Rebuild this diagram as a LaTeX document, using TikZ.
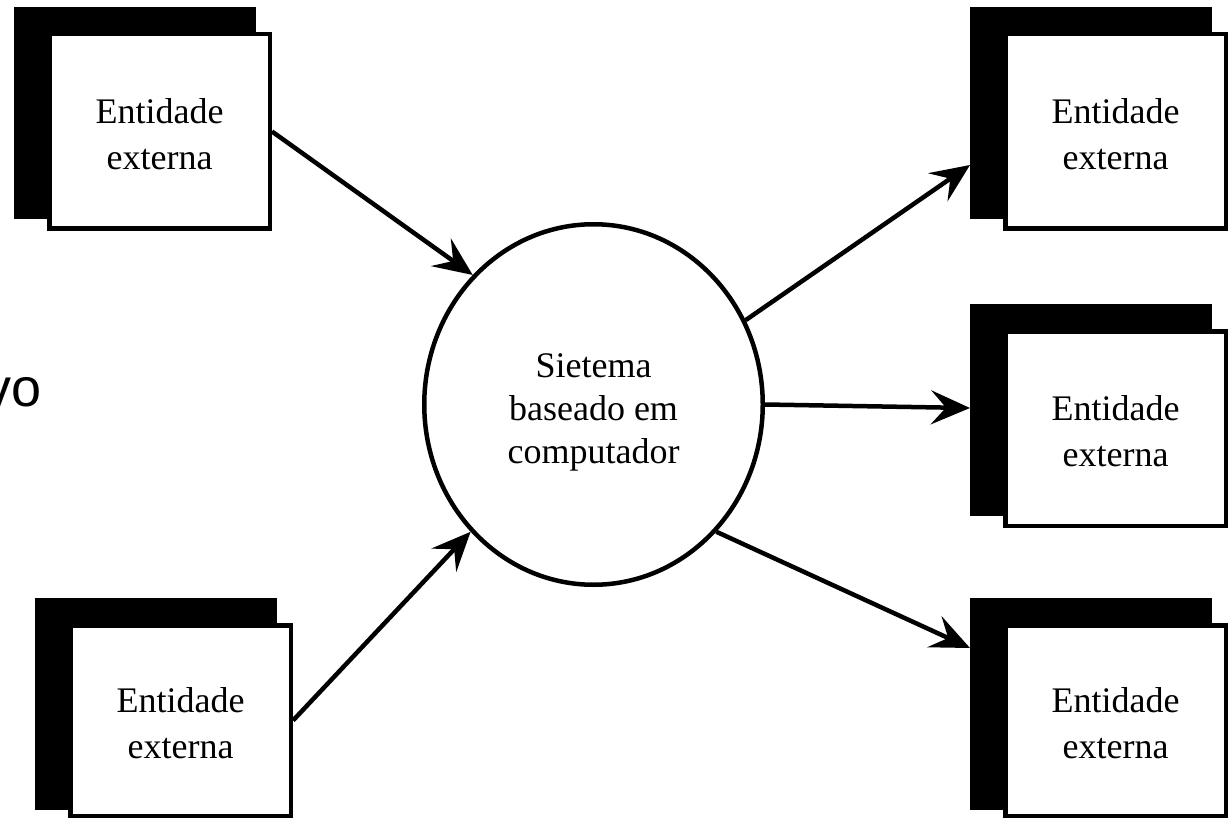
\documentclass[tikz,border=0pt]{standalone}
\usepackage{fontspec}
\setmainfont{Liberation Serif}
\newfontfamily\labelsans{Liberation Sans}
\usetikzlibrary{arrows.meta,shapes.geometric,calc}

% taller first line so the two-line label sits a little below the box centre
\newcommand{\entitytext}{\rule{0pt}{31pt}Entidade\\externa}

\tikzset{
  shadowbox/.style={rectangle, fill=black, minimum width=242pt, minimum height=212pt,
    inner sep=0pt, outer sep=0pt, anchor=north west},
  entity/.style={rectangle, draw=black, line width=4.5pt, fill=white,
    minimum width=220.5pt, minimum height=194.5pt, inner sep=2pt, align=center,
    font=\fontsize{36}{46}\selectfont, anchor=north west},
  process/.style={ellipse, draw=black, line width=4.5pt, fill=white,
    minimum width=338.5pt, minimum height=360.5pt, inner sep=0pt},
  proctext/.style={align=center, inner sep=0pt, font=\fontsize{36}{43}\selectfont},
  flow/.style={line width=4.5pt, -{Stealth[length=39pt,width=34pt,inset=15pt]}},
}

\begin{document}
\begin{tikzpicture}[x=1pt,y=-1pt]
\useasboundingbox (0,0) rectangle (1230,818);
\clip (0,0) rectangle (1230,818);

% partial heading word at the left edge
\node[font=\labelsans\fontsize{54}{60}\selectfont, anchor=base east, inner sep=0pt] (vo) at (42,406) {vo};

% external entities: black offset block behind a white box
\node[shadowbox] (TLs) at (14,7) {};
\node[entity] (TL) at ($(TLs.north west)+(33,25)$) {\entitytext};

\node[shadowbox] (BLs) at (35,598) {};
\node[entity, minimum height=190.5pt] (BL) at ($(BLs.north west)+(33,25)$) {\entitytext};

\node[shadowbox] (TRs) at (970,7) {};
\node[entity] (TR) at ($(TRs.north west)+(33,25)$) {\entitytext};

\node[shadowbox] (MRs) at (970,304) {};
\node[entity] (MR) at ($(MRs.north west)+(33,25)$) {\entitytext};

\node[shadowbox] (BRs) at (970,598) {};
\node[entity, minimum height=190.5pt] (BR) at ($(BRs.north west)+(33,25)$) {\entitytext};

% central process
\node[process] (S) at (593.5,404.5) {};
\node[proctext] (St) at (593.5,412) {Sietema\\baseado em\\computador};

% data flows
\draw[flow] (TL.east) -- (S.133);
\draw[flow] (BL.east) -- (S.226);
\draw[flow] (S.29) -- ($(TRs.north west)+(0,158)$);
\draw[flow] (S.east) -- ($(MRs.north west)+(0,104)$);
\draw[flow] (S.314) -- ($(BRs.north west)+(0,50)$);
\end{tikzpicture}
\end{document}
